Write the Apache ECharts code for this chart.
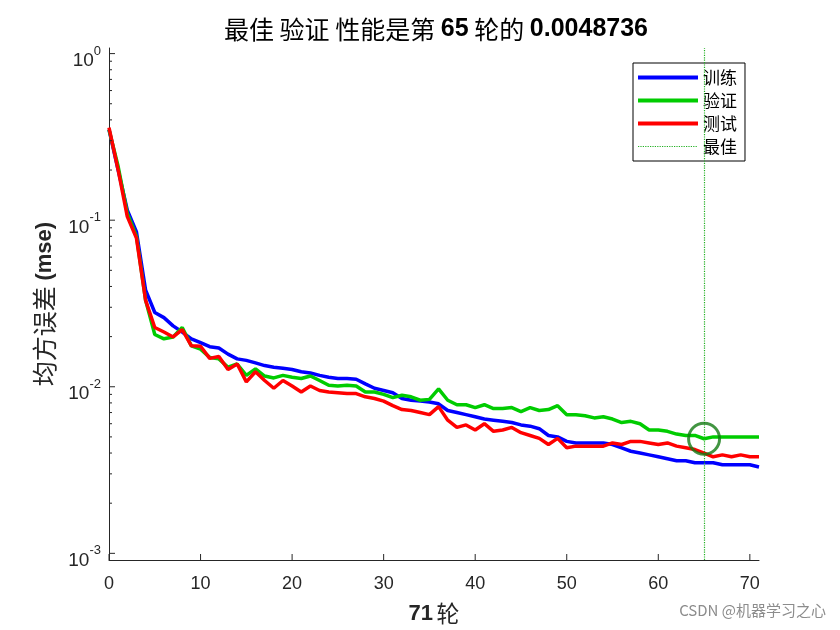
<!DOCTYPE html>
<html>
<head>
<meta charset="utf-8">
<script src="https://cdn.jsdelivr.net/npm/echarts@6/dist/echarts.min.js"></script>
<style>
  html, body { margin: 0; padding: 0; background: #fff; }
  #perf { width: 840px; height: 630px; }
</style>
</head>
<body>
<div id="perf"></div>
<script>
// epochs 0..71
const epochs = Array.from({ length: 72 }, (_, i) => i);

const trainMse = [
  0.35, 0.20, 0.115, 0.085, 0.038, 0.0279, 0.026, 0.0232, 0.0213, 0.0194,
  0.0184, 0.0174, 0.0171, 0.0157, 0.0147, 0.0144, 0.0139, 0.0134, 0.0131, 0.0129,
  0.0127, 0.0123, 0.0121, 0.0117, 0.0114, 0.0112, 0.0112, 0.0111, 0.0104, 0.0098,
  0.0095, 0.0092, 0.0085, 0.0083, 0.0082, 0.0081, 0.0079, 0.0072, 0.0070, 0.0068,
  0.0066, 0.0064, 0.0063, 0.0062, 0.0061, 0.0059, 0.0058, 0.0056, 0.0051, 0.0050,
  0.0047, 0.0046, 0.0046, 0.0046, 0.0046, 0.0045, 0.0043, 0.0041, 0.0040, 0.0039,
  0.0038, 0.0037, 0.0036, 0.0036, 0.0035, 0.0035, 0.0035, 0.0034, 0.0034, 0.0034,
  0.0034, 0.0033
];

const valMse = [
  0.35, 0.21, 0.11, 0.08, 0.033, 0.0206, 0.0194, 0.0199, 0.0227, 0.0176,
  0.0168, 0.0150, 0.0147, 0.0131, 0.0137, 0.0117, 0.0128, 0.0116, 0.0113, 0.0117,
  0.0114, 0.0112, 0.0116, 0.0109, 0.0102, 0.0101, 0.0102, 0.0101, 0.0093, 0.0093,
  0.0090, 0.0086, 0.0089, 0.0087, 0.0083, 0.0084, 0.0097, 0.0083, 0.0078, 0.0078,
  0.0075, 0.0078, 0.0074, 0.0074, 0.0075, 0.0071, 0.0075, 0.0072, 0.0073, 0.0077,
  0.0068, 0.0068, 0.0067, 0.0065, 0.0066, 0.0064, 0.0061, 0.0062, 0.0060, 0.0055,
  0.0055, 0.0054, 0.0052, 0.0051, 0.0051, 0.0048736, 0.0050, 0.0050, 0.0050, 0.0050,
  0.0050, 0.0050
];

const testMse = [
  0.36, 0.20, 0.105, 0.078, 0.033, 0.0227, 0.0213, 0.0199, 0.022, 0.0176,
  0.0175, 0.0148, 0.0152, 0.0127, 0.0137, 0.0107, 0.0123, 0.0109, 0.0098, 0.0109,
  0.0101, 0.0093, 0.0101, 0.0095, 0.0093, 0.0092, 0.0091, 0.0091, 0.0087, 0.0085,
  0.0082, 0.0077, 0.0073, 0.0072, 0.0070, 0.0068, 0.0076, 0.0063, 0.0057, 0.0059,
  0.0055, 0.0060, 0.0054, 0.0055, 0.0057, 0.0053, 0.0051, 0.0049, 0.0045, 0.0049,
  0.0043, 0.0044, 0.0044, 0.0044, 0.0044, 0.0046, 0.0045, 0.0047, 0.0047, 0.0046,
  0.0045, 0.0046, 0.0044, 0.0043, 0.0042, 0.0040, 0.0038, 0.0039, 0.0038, 0.0039,
  0.0038, 0.0038
];

const bestEpoch = 65;
const bestPerf = 0.0048736;

const xTicks = [0, 10, 20, 30, 40, 50, 60, 70];
const yMajorTicks = [0.001, 0.01, 0.1, 1];

const font = "'Liberation Sans', Arial, 'Noto Sans CJK SC', sans-serif";
const cjk = "'Noto Sans CJK SC', sans-serif";
const axisColor = '#262626';

// minor ticks 2..9 within each decade
const yMinorTicks = [];
[0.001, 0.01, 0.1].forEach(d => {
  for (let k = 2; k <= 9; k++) yMinorTicks.push(+(d * k).toPrecision(3));
});

const yMin = 0.000912;
const yMax = 1.0805;

function isPow10(v) {
  const l = Math.log10(v);
  return Math.abs(l - Math.round(l)) < 1e-6;
}

const tickData = [];
xTicks.forEach(x => tickData.push([x, yMin, 'x']));
yMajorTicks.forEach(y => tickData.push([0, y, 'y']));
yMinorTicks.forEach(y => tickData.push([0, y, 'm']));

const chart = echarts.init(document.getElementById('perf'));

chart.setOption({
  animation: false,
  backgroundColor: '#fff',
  textStyle: { fontFamily: font },
  title: {
    text: '{c|最佳 验证 性能是第 }{b|65}{c| 轮的 }{b|0.0048736}',
    left: 431,
    top: 12,
    textAlign: 'center',
    textStyle: {
      rich: {
        c: { fontFamily: cjk, fontSize: 25, fontWeight: 'normal', color: '#000' },
        b: { fontFamily: font, fontSize: 25, fontWeight: 'bold', color: '#000' }
      }
    }
  },
  legend: {
    orient: 'vertical',
    left: 633,
    top: 63,
    data: [
      { name: '训练' },
      { name: '验证' },
      { name: '测试' },
      { name: '最佳', lineStyle: { width: 1.2 } }
    ],
    itemWidth: 60,
    itemHeight: 14,
    itemGap: 6,
    padding: [6, 8, 6, 3],
    borderColor: '#000',
    borderWidth: 1,
    backgroundColor: '#fff',
    selectedMode: false,
    itemStyle: { color: 'rgba(0,0,0,0)', borderColor: 'rgba(0,0,0,0)', borderWidth: 0 },
    lineStyle: { width: 4 },
    textStyle: { fontFamily: cjk, fontSize: 17, lineHeight: 17, color: '#000' }
  },
  grid: {
    left: 109,
    right: 81,
    top: 48,
    bottom: 70,
    containLabel: false
  },
  xAxis: {
    type: 'value',
    min: 0,
    max: 71,
    interval: 10,
    name: '{b|71} {c|轮}',
    nameLocation: 'middle',
    nameGap: 42,
    nameTextStyle: {
      rich: {
        b: { fontFamily: font, fontSize: 22, fontWeight: 'bold', color: axisColor },
        c: { fontFamily: cjk, fontSize: 23, fontWeight: 'normal', color: axisColor }
      }
    },
    axisLine: { show: true, lineStyle: { color: axisColor, width: 1 } },
    axisTick: { show: false },
    splitLine: { show: false },
    axisLabel: {
      margin: 15,
      fontSize: 18,
      color: axisColor,
      formatter: v => (v % 10 === 0 ? String(v) : '')
    }
  },
  yAxis: {
    type: 'log',
    logBase: 10,
    min: yMin,
    max: yMax,
    name: '{c|均方误差 }{b|(mse)}',
    nameLocation: 'middle',
    nameRotate: 90,
    nameGap: 52,
    nameTextStyle: {
      rich: {
        b: { fontFamily: font, fontSize: 22, fontWeight: 'bold', color: axisColor },
        c: { fontFamily: cjk, fontSize: 25, fontWeight: 'normal', color: axisColor }
      }
    },
    axisLine: { show: true, lineStyle: { color: axisColor, width: 1 } },
    axisTick: { show: false },
    splitLine: { show: false },
    axisLabel: {
      margin: 8,
      color: axisColor,
      padding: [8, 0, 0, 0],
      formatter: v => {
        if (!isPow10(v)) return '';
        return '{b|10}{s|' + Math.round(Math.log10(v)) + '}';
      },
      rich: {
        b: { fontSize: 19, lineHeight: 26, verticalAlign: 'bottom', color: axisColor },
        s: { fontSize: 13, lineHeight: 13, verticalAlign: 'top', color: axisColor }
      }
    }
  },
  series: [
    {
      name: '训练',
      type: 'line',
      data: epochs.map((e, i) => [e, trainMse[i]]),
      symbol: 'none',
      lineStyle: { color: '#0000ff', width: 3.5 },
      itemStyle: { color: '#0000ff' }
    },
    {
      name: '验证',
      type: 'line',
      data: epochs.map((e, i) => [e, valMse[i]]),
      symbol: 'none',
      lineStyle: { color: '#00cc00', width: 3.5 },
      itemStyle: { color: '#00cc00' },
      markLine: {
        silent: true,
        symbol: 'none',
        label: { show: false },
        lineStyle: { color: '#666', width: 1, type: 'dotted' },
        data: [{ yAxis: bestPerf }]
      }
    },
    {
      name: '测试',
      type: 'line',
      data: epochs.map((e, i) => [e, testMse[i]]),
      symbol: 'none',
      lineStyle: { color: '#ff0000', width: 3.5 },
      itemStyle: { color: '#ff0000' }
    },
    {
      name: '最佳',
      type: 'line',
      data: [],
      symbol: 'none',
      lineStyle: { color: '#22b022', width: 1.2, type: 'dotted' },
      itemStyle: { color: '#22b022' },
      z: 1,
      markLine: {
        silent: true,
        symbol: 'none',
        label: { show: false },
        lineStyle: { color: '#22b022', width: 1.2, type: 'dotted' },
        data: [{ xAxis: bestEpoch }]
      }
    },
    {
      name: 'best-circle',
      type: 'scatter',
      data: [[bestEpoch, bestPerf]],
      symbol: 'circle',
      symbolSize: 31,
      itemStyle: { color: 'rgba(0,0,0,0)', borderColor: '#137a13', borderWidth: 3 },
      z: 5
    },
    {
      name: 'ticks',
      type: 'custom',
      silent: true,
      data: tickData,
      renderItem: (params, api) => {
        const p = api.coord([api.value(0), api.value(1)]);
        const kind = tickData[params.dataIndex][2];
        let shape;
        if (kind === 'x') shape = { x1: p[0], y1: p[1], x2: p[0], y2: p[1] - 6 };
        else if (kind === 'y') shape = { x1: p[0], y1: p[1], x2: p[0] + 6, y2: p[1] };
        else shape = { x1: p[0], y1: p[1], x2: p[0] + 3, y2: p[1] };
        return { type: 'line', shape, style: { stroke: axisColor, lineWidth: 1 } };
      },
      z: 10
    }
  ],
  graphic: [
    {
      type: 'text',
      right: 14,
      bottom: 12,
      style: { text: 'CSDN @机器学习之心', fontFamily: cjk, fontSize: 15, fill: '#8c8c8c' }
    }
  ]
});
</script>
</body>
</html>
